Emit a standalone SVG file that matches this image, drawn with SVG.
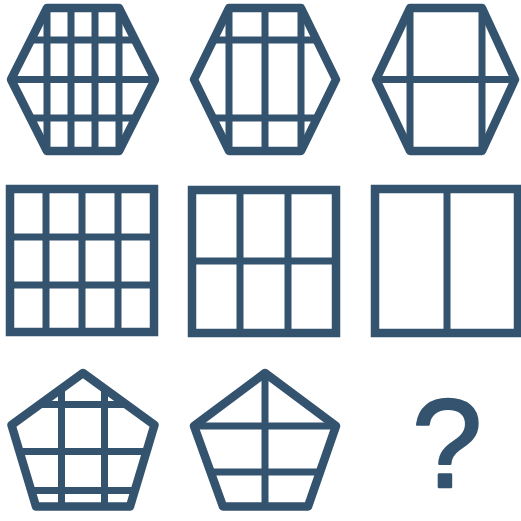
<svg xmlns="http://www.w3.org/2000/svg" width="521" height="521" viewBox="0 0 521 521">
<style>
.o{fill:none;stroke:#34536f;stroke-width:8.5;stroke-linejoin:round}
.s{fill:none;stroke:#34536f;stroke-width:8.5;stroke-linejoin:miter}
.l{stroke:#34536f;stroke-width:7;fill:none}
.q{font-family:"Liberation Sans",Arial,sans-serif;font-size:126px;fill:#34536f;stroke:#34536f;stroke-width:2.5;stroke-linejoin:round}
</style>
<rect width="521" height="521" fill="#fff"/>
<g id="fig1">
<polygon class="o" points="47,8 119,8 155,79.5 119,151 47,151 11,79.5"/>
<path class="l" d="M47,8V151M71,8V151M95,8V151M119,8V151M11,79.5H155M30.9,40H135.1M30.4,118H135.6"/>
</g>
<g id="fig2">
<polygon class="o" points="229,8 301,8 336,79.5 301,151 229,151 194,79.5"/>
<path class="l" d="M229,8V151M265,8V151M301,8V151M213.4,40H316.6M212.9,118H317.1"/>
</g>
<g id="fig3">
<polygon class="o" points="410,8 482,8 515,79.5 482,151 410,151 376,79.5"/>
<path class="l" d="M410,8V151M482,8V151M376,79.5H515"/>
</g>
<g id="fig4">
<rect class="s" x="10" y="189" width="144" height="143"/>
<path class="l" d="M46,189V332M82,189V332M118,189V332M10,237H154M10,285H154"/>
</g>
<g id="fig5">
<rect class="s" x="192" y="190" width="144" height="143"/>
<path class="l" d="M240,190V333M288,190V333M192,261H336"/>
</g>
<g id="fig6">
<rect class="s" x="375" y="189" width="143" height="144"/>
<path class="l" d="M447,189V333"/>
</g>
<g id="fig7">
<polygon class="o" points="83,373 154.5,425 130,506.5 36,506.5 11.5,425"/>
<path class="l" d="M61.5,389V506M104.5,389V506M39.5,404.5H126.5M19.9,451.5H146.1M31.8,490.5H134.2"/>
</g>
<g id="fig8">
<polygon class="o" points="265,373 336,426 308,506.5 223,506.5 194,426"/>
<path class="l" d="M265,373V506M194,426H336M211.2,472H319.9"/>
</g>
<g id="q">
<text class="q" x="447" y="487" text-anchor="middle">?</text>
</g>
</svg>
